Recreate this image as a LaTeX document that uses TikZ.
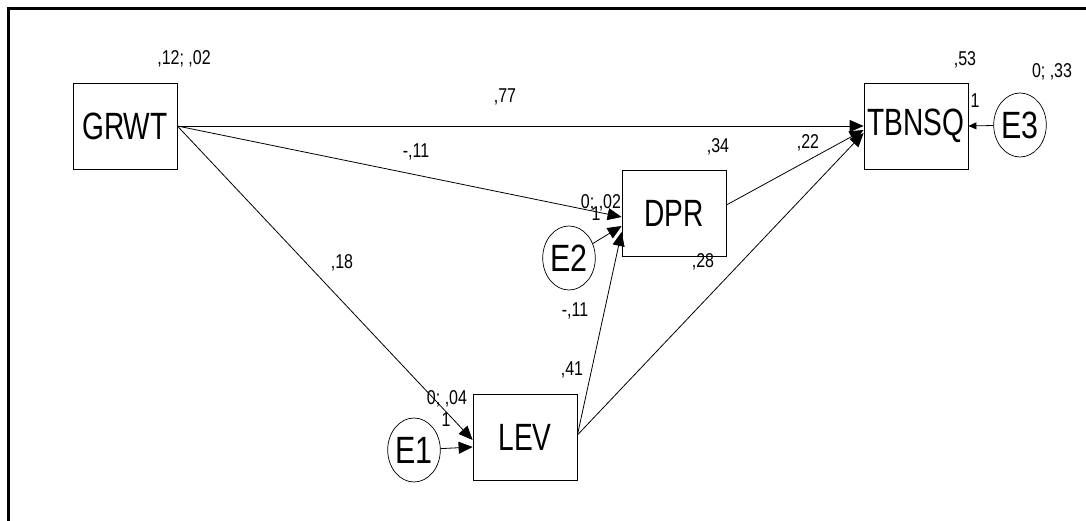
\documentclass[tikz,border=0pt]{standalone}
\usepackage{fontspec}
\setmainfont{Liberation Sans}
\usepackage{graphicx}
\usetikzlibrary{arrows.meta,shapes.geometric,calc}

% condensed sans text in three sizes
\newcommand\boxtxt[1]{\scalebox{0.74}[1]{\fontsize{38}{38}\selectfont #1}}
\newcommand\errtxt[1]{\scalebox{0.8}[1]{\fontsize{38}{38}\selectfont #1}}
\newcommand\smtxt[1]{\scalebox{0.8}[1]{\fontsize{20}{20}\selectfont #1}}

\begin{document}
\begin{tikzpicture}[x=1pt,y=-1pt,
  obsvar/.style={draw, line width=0.8pt, minimum width=104pt, minimum height=86pt, inner sep=0pt},
  errvar/.style={draw, ellipse, line width=0.7pt, minimum width=44pt, minimum height=64pt, inner sep=0pt},
  lbl/.style={inner sep=0pt},
  reg/.style={line width=0.8pt, -{Triangle[length=14pt,width=12pt]}},
  ereg/.style={line width=0.8pt, -{Triangle[length=8pt,width=7pt]}}]

\useasboundingbox (0,0) rectangle (1086,521);

% frame (top and left edges)
\draw[line width=3pt] (8.5,521) -- (8.5,8.5) -- (1086,8.5);

% observed variables
\node[obsvar] (grwt)  at (125,126)   {\boxtxt{GRWT}};
\node[obsvar] (tbnsq) at (916,126)   {\boxtxt{TBNSQ}};
\node[obsvar] (dpr)   at (674,213.5) {\boxtxt{DPR}};
\node[obsvar] (lev)   at (525,437.5) {\boxtxt{LEV}};

% error terms
\node[errvar] (e1) at (414,450) {\errtxt{E1}};
\node[errvar] (e2) at (569,258) {\errtxt{E2}};
\node[errvar] (e3) at (1020,125) {\errtxt{E3}};

% end points on the box borders
\coordinate (dprA) at ($(dpr.west)+(0,3.5)$);
\coordinate (dprB) at ($(dpr.west)+(0,12.5)$);
\coordinate (dprC) at ($(dpr.west)+(0,18.5)$);
\coordinate (dprOut) at ($(dpr.east)+(0,-8.5)$);
\coordinate (levA) at ($(lev.west)+(0,2.5)$);
\coordinate (levB) at ($(lev.west)+(0,9.5)$);
\coordinate (levOut) at ($(lev.east)+(0,-2.5)$);
\coordinate (tbA) at ($(tbnsq.west)+(0,4)$);
\coordinate (tbB) at ($(tbnsq.west)+(0,7)$);

% regression paths
\draw[reg] (grwt.east) -- (tbnsq.west);
\draw[reg] (grwt.east) -- (dprA);
\draw[reg] (grwt.east) -- (levA);
\draw[reg] (levOut) -- (dprC);
\draw[reg] (levOut) -- (tbB);
\draw[reg] (dprOut) -- (tbA);
\draw[reg] (e2) -- (dprB);
\draw[reg] (e1) -- (levB);
\draw[ereg] (e3) -- (tbnsq.east);

% estimates
\node[lbl] (l1)  at (184,59)  {\smtxt{,12; ,02}};
\node[lbl] (l2)  at (965,60)  {\smtxt{,53}};
\node[lbl] (l3)  at (1052,72) {\smtxt{0; ,33}};
\node[lbl] (l4)  at (975,101) {\smtxt{1}};
\node[lbl] (l5)  at (505,97)  {\smtxt{,77}};
\node[lbl] (l6)  at (416,152) {\smtxt{-,11}};
\node[lbl] (l7)  at (601,203) {\smtxt{0; ,02}};
\node[lbl] (l8)  at (596,214) {\smtxt{1}};
\node[lbl] (l9)  at (718,147) {\smtxt{,34}};
\node[lbl] (l10) at (808,143) {\smtxt{,22}};
\node[lbl] (l11) at (342,263) {\smtxt{,18}};
\node[lbl] (l12) at (703,262) {\smtxt{,28}};
\node[lbl] (l13) at (575,311) {\smtxt{-,11}};
\node[lbl] (l14) at (572,370) {\smtxt{,41}};
\node[lbl] (l15) at (447,399) {\smtxt{0; ,04}};
\node[lbl] (l16) at (446,420) {\smtxt{1}};

\end{tikzpicture}
\end{document}
